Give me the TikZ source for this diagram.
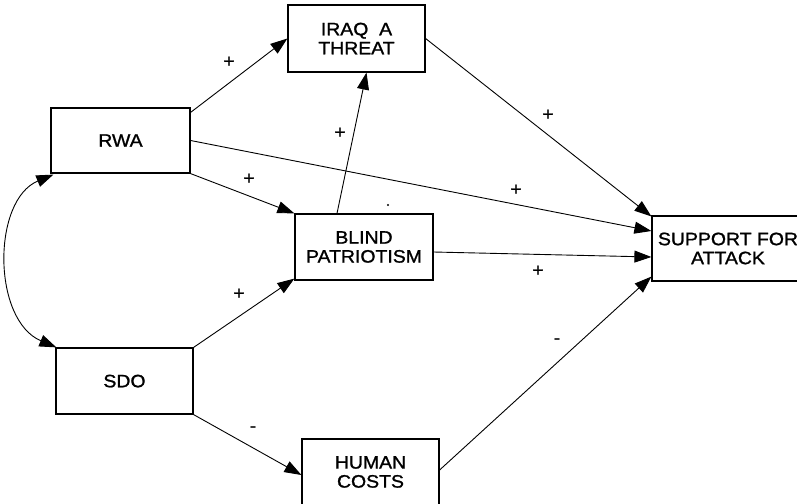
\documentclass[tikz,border=0pt]{standalone}
\usepackage{fontspec}
\setmainfont{Liberation Sans}[FakeStretch=1.08,FakeBold=1.2]
\usetikzlibrary{arrows.meta,calc}
\begin{document}
\begin{tikzpicture}[x=1pt,y=-1pt,
  box/.style={draw,line width=1.2pt,inner sep=0pt,align=center,
    font=\fontsize{18}{19}\selectfont},
  conn/.style={line width=0.9pt,-{Triangle[length=17pt,width=12pt]}},
  sign/.style={font=\fontsize{18}{18}\selectfont,inner sep=0pt}]
\useasboundingbox (0,0) rectangle (797,503);
\clip (0,0) rectangle (797,503);
\node[box,minimum width=139pt,minimum height=65pt] (rwa) at (120.5,140.5) {RWA};
\node[box,minimum width=137pt,minimum height=67pt] (iraq) at (356.5,38.5) {IRAQ\ \ A\\THREAT};
\node[box,minimum width=138pt,minimum height=66pt] (blind) at (364,247) {BLIND\\PATRIOTISM};
\node[box,minimum width=137pt,minimum height=66pt,text depth=0pt] (sdo) at (124.5,381) {SDO};
\node[box,minimum width=137pt,minimum height=66pt] (human) at (370.5,472) {HUMAN\\COSTS};
\node[box,minimum width=152pt,minimum height=65pt] (support) at (728,248.5) {SUPPORT FOR\\ATTACK};
\draw[conn] ($(rwa.north east)+(0,5)$) -- (iraq.west);
\draw[conn] (rwa.east) -- ($(support.west)+(0,-17.5)$);
\draw[conn] (rwa.south east) -- (blind.north west);
\draw[conn] ($(blind.north)+(-27,0)$) -- ($(iraq.south)+(10,0)$);
\draw[conn] (iraq.east) -- ($(support.north west)+(0,1)$);
\draw[conn] ($(blind.east)+(0,5)$) -- ($(support.west)+(0,8.5)$);
\draw[conn] (sdo.north east) -- ($(blind.south west)+(0,-2)$);
\draw[conn] (sdo.south east) -- ($(human.west)+(0,3)$);
\draw[conn] ($(human.east)+(0,-2)$) -- ($(support.south west)+(0,-5)$);
\draw[line width=0.9pt,{Triangle[length=17pt,width=12pt]}-{Triangle[length=17pt,width=12pt]}]
  ($(sdo.north west)+(1,0)$) .. controls (-8,320) and (-8,200) .. ($(rwa.south west)+(3,1)$);
\node[sign] (s1) at (229,62) {+};
\node[sign] (s2) at (340,133) {+};
\node[sign] (s3) at (249,179) {+};
\node[sign] (s4) at (239,294) {+};
\node[sign] (s5) at (253,429) {-};
\node[sign] (s6) at (548,115) {+};
\node[sign] (s7) at (516,190) {+};
\node[sign] (s8) at (538,271) {+};
\node[sign] (s9) at (557,341) {-};
\node[fill,circle,inner sep=0.8pt] (dot) at (388,205) {};
\end{tikzpicture}
\end{document}
